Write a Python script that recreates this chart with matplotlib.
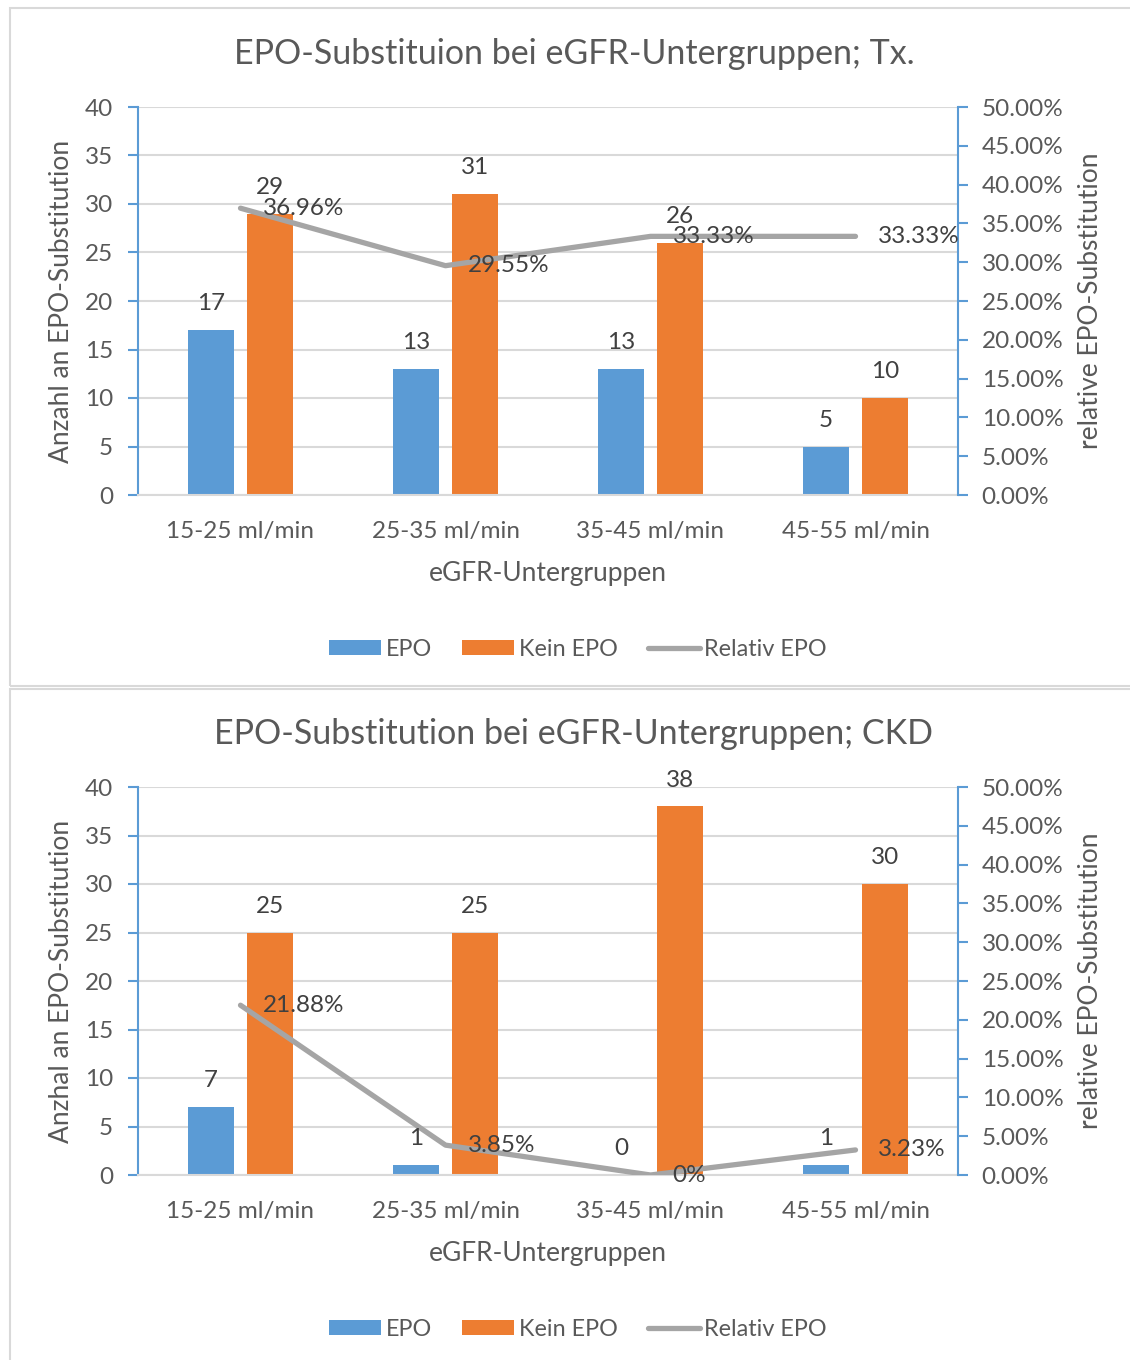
import matplotlib
matplotlib.use("Agg")
import matplotlib.pyplot as plt
from matplotlib.patches import Rectangle, Patch
from matplotlib.lines import Line2D
from matplotlib.ticker import FuncFormatter, MultipleLocator

plt.rcParams['font.family'] = ['Lato', 'DejaVu Sans']

# ---- data ----
categories = ["15-25 ml/min", "25-35 ml/min", "35-45 ml/min", "45-55 ml/min"]

tx_title = "EPO-Substituion bei eGFR-Untergruppen; Tx."
tx_epo = [17, 13, 13, 5]
tx_kein = [29, 31, 26, 10]
tx_rel = [36.96, 29.55, 33.33, 33.33]

ckd_title = "EPO-Substitution bei eGFR-Untergruppen; CKD"
ckd_epo = [7, 1, 0, 1]
ckd_kein = [25, 25, 38, 30]
ckd_rel = [21.88, 3.85, 0.0, 3.23]

left_labels = ["Anzahl an EPO-Substitution", "Anzhal an EPO-Substitution"]
right_label = "relative EPO-Substitution"
x_label = "eGFR-Untergruppen"
legend_labels = ["EPO", "Kein EPO", "Relativ EPO"]

# ---- style ----
BLUE = "#5B9BD5"
ORANGE = "#ED7D31"
GRAY = "#A5A5A5"
GRID = "#D9D9D9"
TXT = "#595959"
LBL = "#404040"

TICK_FS = 17.5
LABEL_FS = 19
LEGEND_FS = 16.8
DATA_FS = 17.5
TITLE_FS = 24.5

W, H = 1130, 1360
fig = plt.figure(figsize=(W / 100, H / 100), dpi=100)


def fx(px):
    return px / W


def fy(py):
    return 1 - py / H


# panel frames
for (x0, y0, x1, y1) in [(10, 8, 1145, 686), (10, 689, 1145, 1375)]:
    fig.patches.append(Rectangle((fx(x0), fy(y1)), fx(x1) - fx(x0), fy(y0) - fy(y1),
                                 transform=fig.transFigure, facecolor="none",
                                 edgecolor=GRID, linewidth=1.5, zorder=0))

bar_w = 0.224
off = 0.143


def pct_text(v):
    return "0%" if v == 0 else f"{v:.2f}%"


def draw_panel(top_px, title, epo, kein, rel, ylab):
    left_px, right_px = 138, 958
    bottom_px = top_px + 388
    ax = fig.add_axes([fx(left_px), fy(bottom_px), fx(right_px) - fx(left_px),
                       fy(top_px) - fy(bottom_px)])
    ax2 = ax.twinx()
    x = list(range(len(categories)))

    ax.bar([i - off for i in x], epo, width=bar_w, color=BLUE, zorder=2)
    ax.bar([i + off for i in x], kein, width=bar_w, color=ORANGE, zorder=2)
    ax.set_xlim(-0.5, len(categories) - 0.5)
    ax.set_ylim(0, 40)
    ax.yaxis.set_major_locator(MultipleLocator(5))
    ax.set_axisbelow(True)
    ax.grid(axis="y", color=GRID, linewidth=1.5)
    ax.set_xticks(x)
    ax.set_xticklabels(categories, fontsize=TICK_FS, color=TXT)
    ax.tick_params(axis="x", length=0, pad=19)
    ax.tick_params(axis="y", direction="out", length=7, width=1.5, color=BLUE,
                   labelsize=TICK_FS, labelcolor=TXT, pad=11)
    for s in ["top", "right"]:
        ax.spines[s].set_visible(False)
    ax.spines["bottom"].set_color(GRID)
    ax.spines["bottom"].set_linewidth(1.5)
    ax.spines["left"].set_color(BLUE)
    ax.spines["left"].set_linewidth(1.5)

    rel_frac = [v / 100 for v in rel]
    ax2.plot(x, rel_frac, color=GRAY, linewidth=3.8, solid_capstyle="round",
             solid_joinstyle="round", zorder=3)
    ax2.set_ylim(0, 0.5)
    ax2.yaxis.set_major_locator(MultipleLocator(0.05))
    ax2.yaxis.set_major_formatter(FuncFormatter(lambda v, p: f"{v * 100:.2f}%"))
    ax2.tick_params(axis="y", direction="out", length=7, width=1.5, color=BLUE,
                    labelsize=TICK_FS, labelcolor=TXT, pad=10)
    for s in ["top", "left", "bottom"]:
        ax2.spines[s].set_visible(False)
    ax2.spines["right"].set_color(BLUE)
    ax2.spines["right"].set_linewidth(1.5)

    # value labels for bars (placed on the twin axes so they sit above the line)
    for i in x:
        for xv, yv in [(i - off, epo[i]), (i + off, kein[i])]:
            ax2.annotate(str(yv), xy=(xv, yv / 80.0), xycoords="data",
                         xytext=(0, 19), textcoords="offset points",
                         ha="center", va="center", fontsize=DATA_FS, color=LBL,
                         zorder=5)
        ax2.annotate(pct_text(rel[i]), xy=(i, rel_frac[i]), xytext=(16, 0),
                     textcoords="offset points", ha="left", va="center",
                     fontsize=DATA_FS, color=LBL, zorder=5)

    fig.text(fx(574), fy(top_px - 53), title, ha="center", va="center",
             fontsize=TITLE_FS, color=TXT)
    fig.text(fx(548), fy(top_px + 466), x_label, ha="center", va="center",
             fontsize=LABEL_FS, color=TXT)
    fig.text(fx(62), fy(top_px + 194), ylab, ha="center", va="center",
             rotation=90, fontsize=LABEL_FS, color=TXT)
    fig.text(fx(1090), fy(top_px + 194), right_label, ha="center", va="center",
             rotation=90, fontsize=LABEL_FS, color=TXT)

    handles = [Patch(facecolor=BLUE), Patch(facecolor=ORANGE),
               Line2D([0], [0], color=GRAY, linewidth=3.8, solid_capstyle="round")]
    fig.legend(handles, legend_labels, loc="center",
               bbox_to_anchor=(fx(578), fy(top_px + 542)), ncol=3, frameon=False,
               fontsize=LEGEND_FS, labelcolor=TXT, handlelength=2.22,
               handleheight=0.64, handletextpad=0.2, columnspacing=1.3)


draw_panel(107, tx_title, tx_epo, tx_kein, tx_rel, left_labels[0])
draw_panel(787, ckd_title, ckd_epo, ckd_kein, ckd_rel, left_labels[1])

fig.savefig("out.png", dpi=100, facecolor="white")
